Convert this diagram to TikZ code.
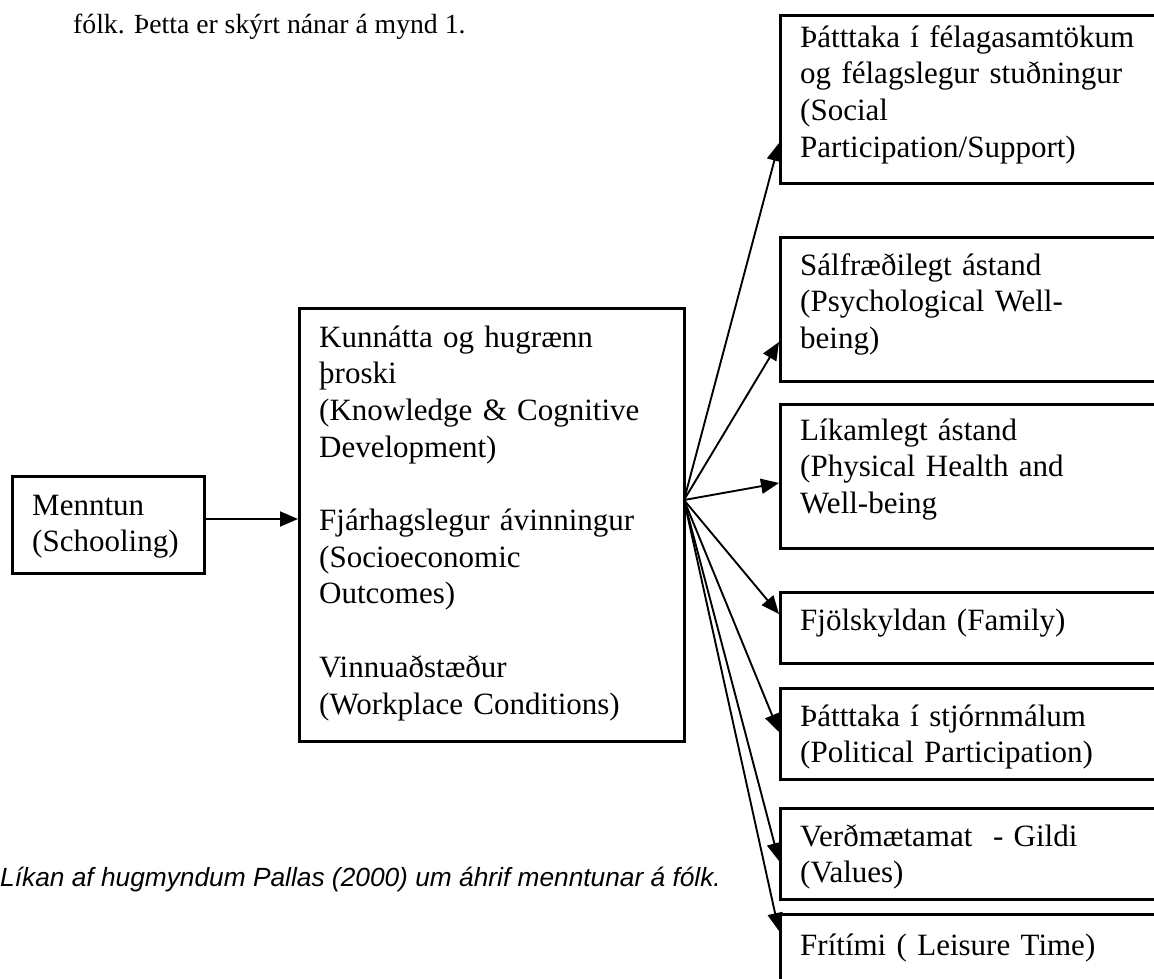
\documentclass[tikz,border=0pt]{standalone}
\usepackage{fontspec}
\setmainfont{Liberation Serif}
\newfontfamily\capfont{Liberation Sans}
\usetikzlibrary{arrows.meta}
\begin{document}
\begin{tikzpicture}[x=1pt,y=-1pt,
  boxstyle/.style={draw, line width=2.5pt, inner sep=0pt, anchor=north west},
  txt/.style={anchor=base west, inner sep=0pt, align=left, text width=380pt, font=\fontsize{31}{36.7}\selectfont},
  arr/.style={line width=1.9pt, -{Triangle[length=18pt,width=15pt]}}
]
\useasboundingbox (0,0) rectangle (1154,978);
\clip (0,0) rectangle (1154,978);

% top text and caption
\node[anchor=base west, inner sep=0pt, font=\fontsize{27.7}{32}\selectfont] (toptext) at (73,33) {fólk. Þetta er skýrt nánar á mynd 1.};
\node[anchor=base west, inner sep=0pt, font=\capfont\itshape\fontsize{26.3}{30}\selectfont] (caption) at (0,886) {Líkan af hugmyndum Pallas (2000) um áhrif menntunar á fólk.};

% boxes
\node[boxstyle, minimum width=192pt, minimum height=97pt] (menntun) at (11,475) {};
\node[boxstyle, minimum width=385pt, minimum height=433pt] (mid) at (298,307) {};
\node[boxstyle, minimum width=400pt, minimum height=168pt] (social) at (779,14) {};
\node[boxstyle, minimum width=400pt, minimum height=144pt] (psych) at (779,236) {};
\node[boxstyle, minimum width=400pt, minimum height=144pt] (phys) at (779,403) {};
\node[boxstyle, minimum width=400pt, minimum height=71pt] (family) at (779,591) {};
\node[boxstyle, minimum width=400pt, minimum height=91pt] (polit) at (779,687) {};
\node[boxstyle, minimum width=400pt, minimum height=91pt] (values) at (779,807) {};
\node[boxstyle, minimum width=400pt, minimum height=120pt] (leisure) at (779,913) {};

% texts
\node[txt] (menntuntxt) at (32,515) {Menntun\\(Schooling)};
\node[txt] (midtxt) at (319,347) {Kunnátta og hugrænn\\þroski\\(Knowledge \& Cognitive\\Development)\\[36.7pt]Fjárhagslegur ávinningur\\(Socioeconomic\\Outcomes)\\[36.7pt]Vinnuaðstæður\\(Workplace Conditions)};
\node[txt] (socialtxt) at (800,47) {Þátttaka í félagasamtökum\\og félagslegur stuðningur\\(Social\\Participation/Support)};
\node[txt] (psychtxt) at (800,275) {Sálfræðilegt ástand\\(Psychological Well-\\being)};
\node[txt] (phystxt) at (800,440) {Líkamlegt ástand\\(Physical Health and\\Well-being};
\node[txt] (familytxt) at (800,630) {Fjölskyldan (Family)};
\node[txt] (polittxt) at (800,726) {Þátttaka í stjórnmálum\\(Political Participation)};
\node[txt] (valuestxt) at (800,846) {Verðmætamat\ \ - Gildi\\(Values)};
\node[txt] (leisuretxt) at (800,955) {Frítími ( Leisure Time)};

% connectors
\coordinate (ya) at (0,519);
\draw[arr] (menntun.east |- ya) -- (mid.west |- ya);

\coordinate (fan) at (684,500);
\coordinate (t1) at (779,143);
\coordinate (t2) at (779,342);
\coordinate (t3) at (779,483);
\coordinate (t4) at (779,614);
\coordinate (t5) at (779,732);
\coordinate (t6) at (779,861);
\coordinate (t7) at (779,931);
\foreach \t in {t1,t2,t3,t4,t5,t6,t7} {\draw[arr] (fan) -- (\t);}
\end{tikzpicture}
\end{document}
